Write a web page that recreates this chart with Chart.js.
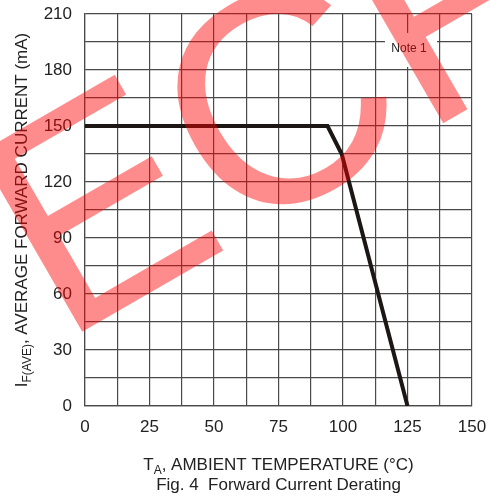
<!DOCTYPE html>
<html>
<head>
<meta charset="utf-8">
<script src="https://cdn.jsdelivr.net/npm/chart.js@4.4.0/dist/chart.umd.min.js"></script>
<style>
  body { margin: 0; background: #fff; }
  #wrap { width: 491px; height: 500px; position: relative; }
</style>
</head>
<body>
<div id="wrap"><canvas id="derating"></canvas></div>
<script>
// data
var tempC = [0, 94, 99.5, 125];
var currentMA = [150, 150, 135, 0];
var xTicks = [0, 25, 50, 75, 100, 125, 150];
var yTicks = [0, 30, 60, 90, 120, 150, 180, 210];

var FONT = '"Liberation Sans", Arial, sans-serif';
var INK = '#222';

var pts = tempC.map(function (t, i) { return { x: t, y: currentMA[i] }; });

// note box + axis titles + watermark
var extras = {
  id: 'extras',
  beforeDatasetsDraw: function (chart) {
    var ctx = chart.ctx;
    ctx.save();
    ctx.fillStyle = '#fff';
    ctx.fillRect(385, 33, 52, 34);
    ctx.fillStyle = INK;
    ctx.font = '12px ' + FONT;
    ctx.textAlign = 'center';
    ctx.textBaseline = 'middle';
    ctx.fillText('Note 1', 409, 49);
    ctx.restore();
  },
  afterDraw: function (chart) {
    var ctx = chart.ctx;
    var area = chart.chartArea;
    var cx = (area.left + area.right) / 2;
    var cy = (area.top + area.bottom) / 2;
    ctx.save();
    ctx.fillStyle = INK;
    ctx.textBaseline = 'alphabetic';
    ctx.textAlign = 'left';

    // x title with subscript
    var big = '17px ' + FONT, small = '12px ' + FONT;
    ctx.font = big; var w1 = ctx.measureText('T').width;
    var w3 = ctx.measureText(', AMBIENT TEMPERATURE (°C)').width;
    ctx.font = small; var w2 = ctx.measureText('A').width;
    var x0 = cx - (w1 + w2 + w3) / 2;
    ctx.font = big; ctx.fillText('T', x0, 470);
    ctx.font = small; ctx.fillText('A', x0 + w1, 474);
    ctx.font = big; ctx.fillText(', AMBIENT TEMPERATURE (°C)', x0 + w1 + w2, 470);

    // caption
    ctx.textAlign = 'center';
    ctx.fillText('Fig. 4  Forward Current Derating', cx, 490);

    // y title, rotated
    ctx.textAlign = 'left';
    ctx.translate(27, cy);
    ctx.rotate(-Math.PI / 2);
    ctx.font = big; var a1 = ctx.measureText('I').width;
    var a3 = ctx.measureText(', AVERAGE FORWARD CURRENT (mA)').width;
    ctx.font = small; var a2 = ctx.measureText('F(AVE)').width;
    var y0 = -(a1 + a2 + a3) / 2;
    ctx.font = big; ctx.fillText('I', y0, 0);
    ctx.font = small; ctx.fillText('F(AVE)', y0 + a1, 4);
    ctx.font = big; ctx.fillText(', AVERAGE FORWARD CURRENT (mA)', y0 + a1 + a2, 0);
    ctx.restore();

    // red ECF watermark
    ctx.save();
    ctx.translate(61, 344);
    ctx.rotate(-30 * Math.PI / 180);
    ctx.font = '300px ' + FONT;
    ctx.fillStyle = 'rgba(255,0,0,0.45)';
    ctx.textBaseline = 'alphabetic';
    ctx.fillText('ECF', 0, 0);
    ctx.restore();
  }
};

new Chart(document.getElementById('derating'), {
  type: 'line',
  data: {
    datasets: [{
      data: pts,
      borderColor: '#1c1714',
      borderWidth: 4,
      pointRadius: 0,
      tension: 0,
      fill: false
    }]
  },
  options: {
    responsive: true,
    maintainAspectRatio: false,
    animation: false,
    events: [],
    layout: { padding: { top: 14, right: 19, left: 0, bottom: 0 } },
    plugins: { legend: { display: false }, tooltip: { enabled: false } },
    scales: {
      x: {
        type: 'linear',
        min: 0, max: 150,
        afterFit: function (s) { s.height = 94; s.paddingLeft = 0; s.paddingRight = 0; },
        ticks: {
          stepSize: 12.5,
          autoSkip: false,
          maxRotation: 0,
          padding: 11,
          color: INK,
          font: { family: FONT, size: 17 },
          callback: function (v) { return xTicks.indexOf(v) >= 0 ? v : ''; }
        },
        grid: { color: '#4a4a4a', lineWidth: 1.2, drawTicks: false },
        border: { color: '#4a4a4a', width: 1.2 }
      },
      y: {
        min: 0, max: 210,
        afterFit: function (s) { s.width = 85; s.paddingTop = 0; s.paddingBottom = 0; },
        ticks: {
          stepSize: 15,
          autoSkip: false,
          padding: 13,
          color: INK,
          font: { family: FONT, size: 17 },
          callback: function (v) { return yTicks.indexOf(v) >= 0 ? v : ''; }
        },
        grid: { color: '#4a4a4a', lineWidth: 1.2, drawTicks: false },
        border: { color: '#4a4a4a', width: 1.2 }
      }
    }
  },
  plugins: [extras]
});
</script>
</body>
</html>
